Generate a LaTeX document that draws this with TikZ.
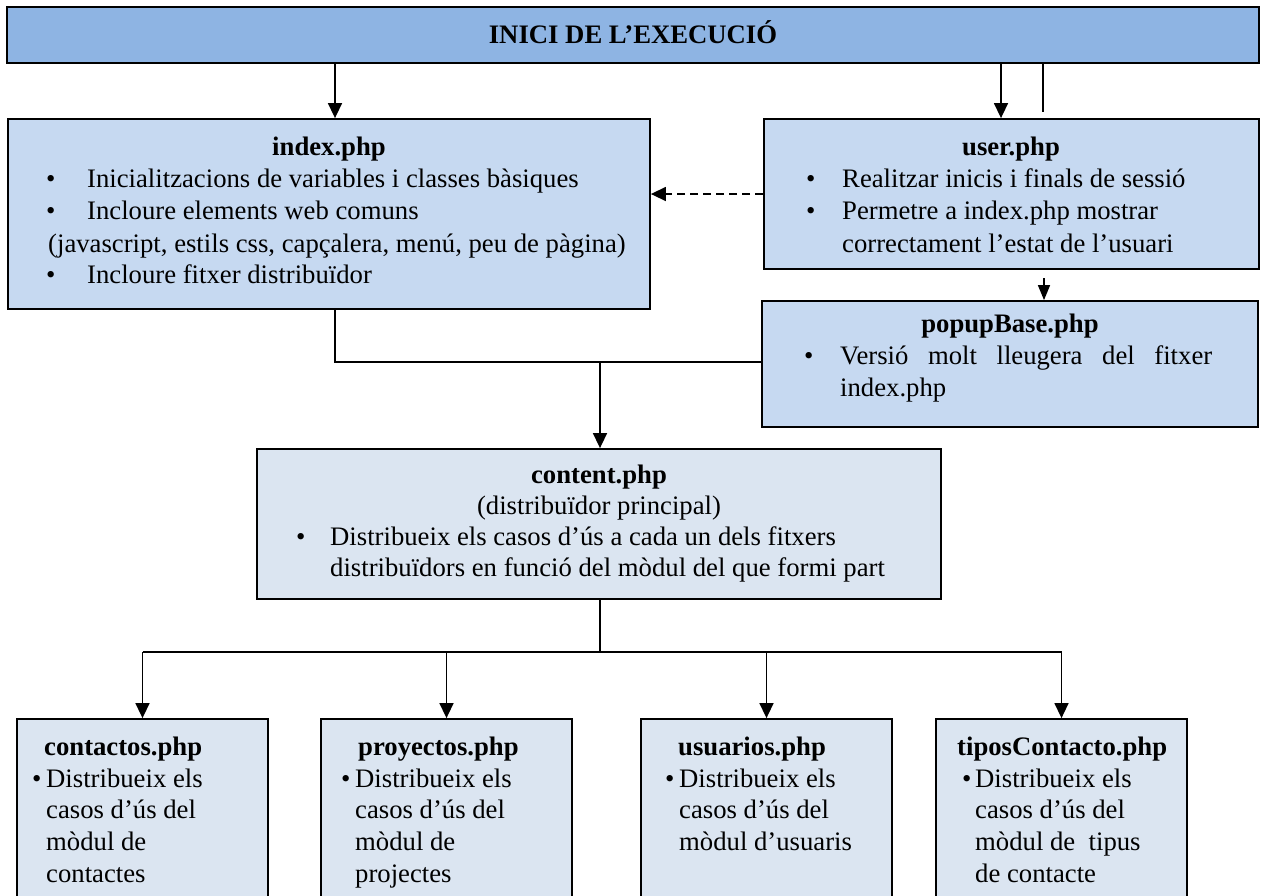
\documentclass[tikz,border=0pt]{standalone}
\usepackage{fontspec}
\setmainfont{Liberation Serif}
\usetikzlibrary{arrows.meta}
\definecolor{topblue}{HTML}{8EB4E3}
\definecolor{midblue}{HTML}{C6D9F1}
\definecolor{lightblue}{HTML}{DBE5F1}
\newcommand{\dfs}{\fontsize{26.7}{32}\selectfont}
\tikzset{
  box/.style={draw=black, line width=1.8pt, rectangle, inner sep=0pt},
  arr/.style={-{Triangle[length=15pt,width=14pt]}, line width=1.5pt},
  ln/.style={line width=1.5pt},
  txt/.style={anchor=base west, inner sep=0pt, font=\dfs},
  ttl/.style={anchor=base, inner sep=0pt, font=\dfs\bfseries},
}
\begin{document}
\begin{tikzpicture}[x=1pt,y=-1pt]
\useasboundingbox (0,0) rectangle (1263,895);
% boxes
\node[box, fill=topblue, minimum width=1252pt, minimum height=56pt] (start) at (633,35) {};
\node[ttl] (startT) at (633,43) {INICI DE L’EXECUCIÓ};
\node[box, fill=midblue, minimum width=642pt, minimum height=190pt] (index) at (329,214) {};
\node[box, fill=midblue, minimum width=495pt, minimum height=150pt] (user) at (1011.5,194) {};
\node[box, fill=midblue, minimum width=496pt, minimum height=126pt] (popup) at (1010,364) {};
\node[box, fill=lightblue, minimum width=684pt, minimum height=150pt] (content) at (599,524) {};
\node[box, fill=lightblue, minimum width=251pt, minimum height=186pt] (b1) at (142.5,812) {};
\node[box, fill=lightblue, minimum width=251pt, minimum height=186pt] (b2) at (446.5,812) {};
\node[box, fill=lightblue, minimum width=251pt, minimum height=186pt] (b3) at (766.5,812) {};
\node[box, fill=lightblue, minimum width=251pt, minimum height=186pt] (b4) at (1061.5,812) {};
% index text
\node[ttl] (i0) at (329,155) {index.php};
\node[txt] (i1b) at (46,187) {•};
\node[txt] (i1) at (87,187) {Inicialitzacions de variables i classes bàsiques};
\node[txt] (i2b) at (46,219) {•};
\node[txt] (i2) at (87,219) {Incloure elements web comuns};
\node[txt] (i3) at (48,252) {(javascript, estils css, capçalera, menú, peu de pàgina)};
\node[txt] (i4b) at (46,283) {•};
\node[txt] (i4) at (87,283) {Incloure fitxer distribuïdor};
% user text
\node[ttl] (u0) at (1011,155) {user.php};
\node[txt] (u1b) at (806,187) {•};
\node[txt] (u1) at (842,187) {Realitzar inicis i finals de sessió};
\node[txt] (u2b) at (806,219) {•};
\node[txt] (u2) at (842,219) {Permetre a index.php mostrar};
\node[txt] (u3) at (842,252) {correctament l’estat de l’usuari};
% popup text
\node[ttl] (p0) at (1010,332) {popupBase.php};
\node[txt] (p1b) at (804,364) {•};
\node[txt] (p1) at (840,364) {\makebox[372pt][s]{Versió molt lleugera del fitxer}};
\node[txt] (p2) at (840,396) {index.php};
% content text
\node[ttl] (c0) at (599,483) {content.php};
\node[anchor=base, inner sep=0pt, font=\dfs] (c1) at (599,514) {(distribuïdor principal)};
\node[txt] (c2b) at (296,545) {•};
\node[txt] (c2) at (330,545) {Distribueix els casos d’ús a cada un dels fitxers};
\node[txt] (c3) at (330,576) {distribuïdors en funció del mòdul del que formi part};
% bottom texts
\node[txt, font=\dfs\bfseries] (t1) at (44,755) {contactos.php};
\node[txt] (t1b) at (32,787) {•};
\node[txt] (t1a) at (46,787) {Distribueix els};
\node[txt] (t1c) at (46,818) {casos d’ús del};
\node[txt] (t1d) at (46,850) {mòdul de};
\node[txt] (t1e) at (46,882) {contactes};
\node[txt, font=\dfs\bfseries] (t2) at (358,755) {proyectos.php};
\node[txt] (t2b) at (341,787) {•};
\node[txt] (t2a) at (355,787) {Distribueix els};
\node[txt] (t2c) at (355,818) {casos d’ús del};
\node[txt] (t2d) at (355,850) {mòdul de};
\node[txt] (t2e) at (355,882) {projectes};
\node[txt, font=\dfs\bfseries] (t3) at (678,755) {usuarios.php};
\node[txt] (t3b) at (665,787) {•};
\node[txt] (t3a) at (679,787) {Distribueix els};
\node[txt] (t3c) at (679,818) {casos d’ús del};
\node[txt] (t3d) at (679,850) {mòdul d’usuaris};
\node[txt, font=\dfs\bfseries] (t4) at (957,755) {tiposContacto.php};
\node[txt] (t4b) at (962,787) {•};
\node[txt] (t4a) at (975,787) {Distribueix els};
\node[txt] (t4c) at (975,818) {casos d’ús del};
\node[txt] (t4d) at (975,850) {mòdul de\ \ tipus};
\node[txt] (t4e) at (975,882) {de contacte};
% connector coordinates
\coordinate (xa) at (335,0);
\coordinate (xu) at (1001,0);
\coordinate (ustub) at (1043,112);
\coordinate (pstub) at (1044,278);
\coordinate (j) at (600,362);
\coordinate (hb) at (600,652);
% connectors
\draw[arr] (start.south -| xa) -- (index.north -| xa);
\draw[arr] (start.south -| xu) -- (user.north -| xu);
\draw[ln] (start.south -| ustub) -- (ustub);
\draw[arr, dash pattern=on 8pt off 5pt] (user.west) -- (user.west -| index.east);
\draw[arr, -{Triangle[length=15pt,width=12pt]}] (pstub) -- (popup.north -| pstub);
\draw[ln] (index.south -| xa) |- (j) -- (j -| popup.west);
\draw[arr] (j) -- (content.north -| j);
\draw[ln] (content.south -| hb) -- (hb);
\draw[ln] (hb -| b1.north) -- (hb -| b4.north);
\draw[arr] (hb -| b1.north) -- (b1.north);
\draw[arr] (hb -| b2.north) -- (b2.north);
\draw[arr] (hb -| b3.north) -- (b3.north);
\draw[arr] (hb -| b4.north) -- (b4.north);
\end{tikzpicture}
\end{document}
